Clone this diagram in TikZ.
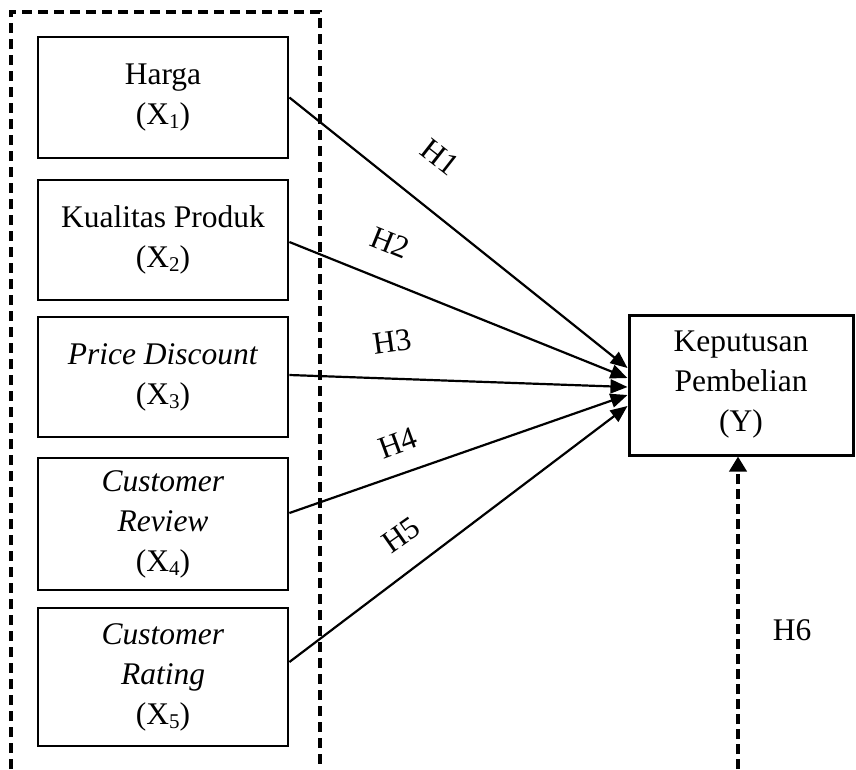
\documentclass[tikz,border=0pt]{standalone}
\usepackage{fontspec}
\setmainfont{Liberation Serif}
\usetikzlibrary{arrows.meta}
\newcommand\sbx[1]{\raisebox{-4pt}{\fontsize{21}{21}\selectfont #1}}
\begin{document}
\begin{tikzpicture}[x=1pt,y=-1pt,
  txt/.style={font=\fontsize{31.5}{40}\selectfont, align=center},
  varbox/.style={txt, draw, line width=2.8pt, minimum width=250pt, inner sep=0pt},
  ybox/.style={txt, draw, line width=3pt, minimum width=224pt, minimum height=140pt, inner sep=0pt},
  frame/.style={line width=3.8pt, dash pattern=on 10pt off 6pt},
  arr/.style={line width=2.2pt, -{Triangle[length=17pt,width=14pt]}},
  darr/.style={line width=3.8pt, dash pattern=on 10pt off 5pt, -{Triangle[length=15pt,width=17pt]}},
  hlab/.style={font=\fontsize{31.5}{40}\selectfont, inner sep=1pt}]
\useasboundingbox (0,0) rectangle (856,769);
\fill[white] (0,0) rectangle (856,769);
% dashed frame
\coordinate (f1) at (11,769);
\coordinate (f2) at (11,12);
\coordinate (f3) at (320,12);
\coordinate (f4) at (320,769);
\draw[frame] (f1) -- (f2) -- (f3) -- (f4);
% variable boxes
\node[varbox, minimum height=121pt] (b1) at (163,97.5) {Harga\\(X\sbx{1})};
\node[varbox, minimum height=120pt] (b2) at (163,240) {Kualitas Produk\\(X\sbx{2})};
\node[varbox, minimum height=120pt] (b3) at (163,377) {\textit{Price Discount}\\(X\sbx{3})};
\node[varbox, minimum height=132pt] (b4) at (163,524) {\textit{Customer}\\\textit{Review}\\(X\sbx{4})};
\node[varbox, minimum height=138pt] (b5) at (163,677) {\textit{Customer}\\\textit{Rating}\\(X\sbx{5})};
% dependent box
\node[ybox] (Y) at (741,385) {Keputusan\\Pembelian\\(Y)};
% arrows
\draw[arr] (b1.east) -- ([yshift=17pt]Y.west);
\draw[arr] ([yshift=-2pt]b2.east) -- ([yshift=7pt]Y.west);
\draw[arr] ([yshift=2pt]b3.east) -- ([yshift=-2pt]Y.west);
\draw[arr] ([yshift=11pt]b4.east) -- ([yshift=-10pt]Y.west);
\draw[arr] ([yshift=15pt]b5.east) -- ([yshift=-21pt]Y.west);
\coordinate (h6s) at (738,769);
\draw[darr] (h6s) -- (h6s |- Y.south);
% labels
\node[hlab, rotate=-38] (l1) at (440,157) {H1};
\node[hlab, rotate=-22] (l2) at (390,243) {H2};
\node[hlab, rotate=8] (l3) at (392,342) {H3};
\node[hlab, rotate=20] (l4) at (398,443) {H4};
\node[hlab, rotate=35] (l5) at (401,535) {H5};
\node[hlab] (l6) at (792,630) {H6};
\end{tikzpicture}
\end{document}
